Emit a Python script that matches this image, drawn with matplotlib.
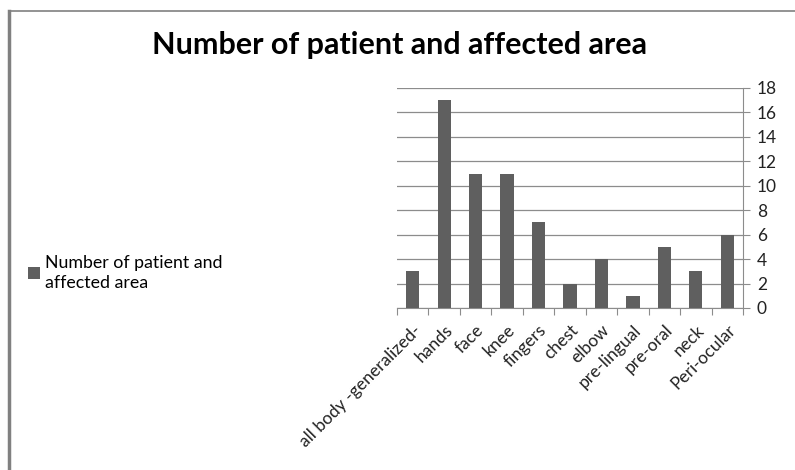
import matplotlib.pyplot as plt
from matplotlib.lines import Line2D
import numpy as np

plt.rcParams['font.family'] = ['Lato', 'DejaVu Sans']

categories = ['all body -generalized-', 'hands', 'face', 'knee', 'fingers', 'chest',
              'elbow', 'pre-lingual', 'pre-oral', 'neck', 'Peri-ocular']
patients = [3, 17, 11, 11, 7, 2, 4, 1, 5, 3, 6]
series_name = 'Number of patient and\naffected area'
title = 'Number of patient and affected area'

W, H = 795, 470
fig = plt.figure(figsize=(W / 100, H / 100), dpi=100)
ax = fig.add_axes([397 / W, 1 - 308 / H, (743 - 397) / W, (308 - 88) / H])

x = np.arange(len(categories))
bars = ax.bar(x, patients, width=0.42, color='#5f5f5f', zorder=3)

ax.set_xlim(-0.5, len(categories) - 0.5)
ax.set_ylim(0, 18)
ax.set_yticks(np.arange(0, 19, 2))
ax.yaxis.tick_right()
ax.yaxis.grid(True, color='#8c8c8c', linewidth=0.9, zorder=0)
ax.tick_params(axis='y', length=5, color='#8c8c8c', labelsize=12.5, pad=5, labelcolor='#222222')

# category ticks sit between bars
ax.set_xticks(np.arange(-0.5, len(categories), 1.0), minor=False)
ax.set_xticklabels([])
ax.tick_params(axis='x', length=5, color='#8c8c8c')
ax.set_xticks(x, minor=True)
ax.set_xticklabels(categories, minor=True, rotation=45, ha='right', rotation_mode='anchor',
                   fontsize=12.5, color='#222222')
ax.tick_params(axis='x', which='minor', length=0, pad=10)

for s in ['top', 'left']:
    ax.spines[s].set_visible(False)
ax.spines['right'].set_color('#8c8c8c')
ax.spines['bottom'].set_color('#8c8c8c')

fig.text(400 / W, 1 - 45 / H, title, ha='center', va='center', fontsize=22, fontweight='bold')

leg = fig.legend(bars, [series_name], loc='center left', bbox_to_anchor=(12 / W, 1 - 273 / H),
                 frameon=False, fontsize=12.8, handlelength=0.65, handleheight=0.65, handletextpad=0.3)
leg.get_texts()[0].set_linespacing(1.35)

# chart border
fig.add_artist(Line2D([9 / W, 9 / W], [0, 1 - 11 / H], color='#808080', linewidth=2.5))
fig.add_artist(Line2D([9 / W, 1], [1 - 11 / H, 1 - 11 / H], color='#808080', linewidth=1.2))

fig.savefig('out.png', dpi=100)
